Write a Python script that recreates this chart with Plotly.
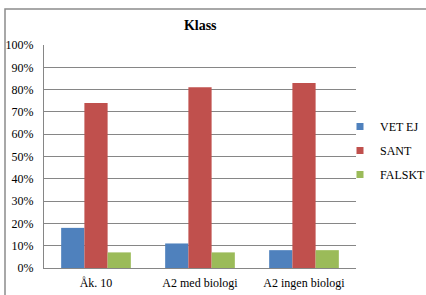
import plotly.graph_objects as go

categories = ["Åk. 10", "A2 med biologi", "A2 ingen biologi"]
vet_ej = [0.18, 0.11, 0.08]
sant = [0.74, 0.81, 0.83]
falskt = [0.07, 0.07, 0.08]
series_names = ["VET EJ", "SANT", "FALSKT"]
colors = ["#4F81BD", "#C0504D", "#9BBB59"]
y_ticks = [i / 10 for i in range(11)]

fig = go.Figure()
for name, vals, c in zip(series_names, [vet_ej, sant, falskt], colors):
    fig.add_trace(go.Bar(x=categories, y=vals, name=name, marker_color=c,
                         marker_line_width=0, showlegend=False))
    # legend entry with small square symbol
    fig.add_trace(go.Scatter(x=[None], y=[None], mode="markers", name=name, legendgroup=name,
                             marker=dict(symbol="square", size=7, color=c), showlegend=True))

font_family = "Liberation Serif"
fig.update_layout(
    width=426, height=295,
    margin=dict(l=44, r=70, t=45, b=27, autoexpand=False),
    paper_bgcolor="white", plot_bgcolor="white",
    barmode="group", bargap=0.33, bargroupgap=0,
    font=dict(family=font_family, size=12, color="black"),
    title=dict(text="<b>Klass</b>", x=0.47, xanchor="center", y=0.915, yanchor="middle",
               font=dict(size=14, family=font_family)),
    showlegend=True,
    legend=dict(xref="container", yref="container", x=340/426, y=1 - 112/295,
                xanchor="left", yanchor="top", tracegroupgap=5, traceorder="grouped",
                font=dict(size=12, family=font_family), itemwidth=30,
                bgcolor="rgba(0,0,0,0)"),
    xaxis=dict(showline=True, linecolor="#868686", linewidth=1, ticks="",
               tickfont=dict(size=12), automargin=False, ticklabelstandoff=4),
    yaxis=dict(range=[0, 1], tickvals=y_ticks, tickformat=".0%", showgrid=True,
               gridcolor="#868686", gridwidth=1, showline=True, linecolor="#868686",
               linewidth=1, ticks="", tickfont=dict(size=12), zeroline=False,
               automargin=False, ticklabelstandoff=7),
)
fig.add_shape(type="rect", xref="paper", yref="paper", x0=-0.125, y0=-1, x1=2, y1=1.161,
              line=dict(color="#8c8c8c", width=1.5), layer="above")
fig.write_html("out.html", config={"displayModeBar": False},
               post_script="document.body.style.margin='0';")
